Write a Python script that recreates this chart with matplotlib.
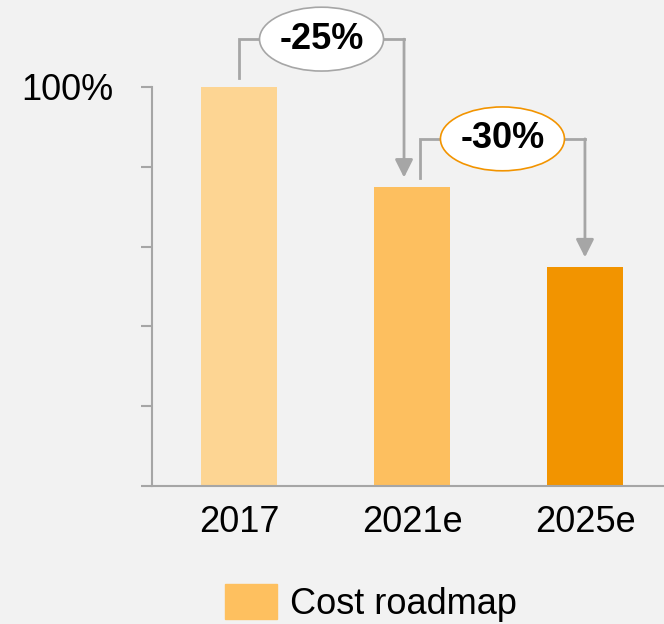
import matplotlib.pyplot as plt
from matplotlib.patches import Ellipse, Patch

plt.rcParams['font.family'] = ['Liberation Sans', 'DejaVu Sans']

years = ['2017', '2021e', '2025e']
cost = [100, 75, 55]
bar_colors = ['#fdd593', '#fdbf5f', '#f29400']
changes = ['-25%', '-30%']
ellipse_edges = ['#a6a6a6', '#f29400']
y_ticks = [0, 20, 40, 60, 80, 100]
y_tick_labels = ['', '', '', '', '', '100%']

bg = '#f2f2f2'
grey = '#a6a6a6'

fig = plt.figure(figsize=(6.64, 6.24), dpi=100, facecolor=bg)
ax = fig.add_axes([152 / 664, 138 / 624, 512 / 664, 399 / 624])
ax.set_facecolor(bg)

x = list(range(len(years)))
ax.bar(x, cost, width=0.44, color=bar_colors, zorder=2)

ax.set_xlim(-0.503, 2.457)
ax.set_ylim(0, 100)
ax.set_yticks(y_ticks)
ax.set_yticklabels(y_tick_labels, fontsize=26)
ax.set_xticks(x)
ax.set_xticklabels(years, fontsize=26)
ax.tick_params(axis='x', length=0, pad=14)
ax.tick_params(axis='y', length=8, width=1.5, color=grey, pad=20)
for side in ['top', 'right']:
    ax.spines[side].set_visible(False)
for side in ['left', 'bottom']:
    ax.spines[side].set_color(grey)
    ax.spines[side].set_linewidth(1.5)

# brackets with arrows between bars
offsets = [(0.0, -0.046), (0.046, 0.0)]
for i, label in enumerate(changes):
    x0 = x[i] + offsets[i][0]
    x1 = x[i + 1] + offsets[i][1]
    yb = cost[i] + 12
    ax.plot([x0, x0, x1], [cost[i] + 2.3, yb, yb], color=grey, lw=2,
            solid_joinstyle='miter', clip_on=False, zorder=3)
    ax.annotate('', xy=(x1, cost[i + 1] + 2.3), xytext=(x1, yb),
                arrowprops=dict(arrowstyle='-|>', color=grey, lw=2,
                                mutation_scale=27, shrinkA=0, shrinkB=0),
                annotation_clip=False, zorder=3)
    xc = (x0 + x1) / 2
    ax.add_patch(Ellipse((xc, yb), 0.717, 16, facecolor='white',
                         edgecolor=ellipse_edges[i], lw=1.2, clip_on=False, zorder=4))
    ax.text(xc, yb, label, ha='center', va='center', fontsize=26,
            fontweight='bold', zorder=5)

fig.legend(handles=[Patch(color='#fec05f', label='Cost roadmap')],
           loc='center', bbox_to_anchor=(371 / 664, 1 - 603 / 624),
           frameon=False, fontsize=26, handlelength=1.44, handleheight=1.1,
           handletextpad=0.36, borderpad=0, borderaxespad=0)

fig.savefig('out.png', dpi=100, facecolor=bg)
